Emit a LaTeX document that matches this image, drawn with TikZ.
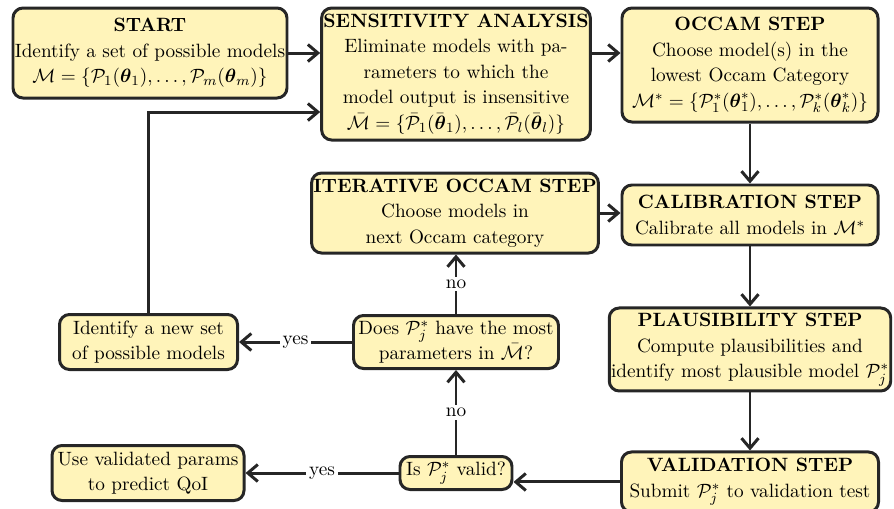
\documentclass[tikz,border=0pt]{standalone}
\usepackage{amsmath}
\usepackage{amssymb}
\usepackage{xcolor}
\usepackage{tikz}
\usetikzlibrary{arrows.meta,positioning}

\begin{document}
\begin{tikzpicture}[
  x=0.2mm, y=-0.2mm,
  font=\fontsize{10.95}{14.5}\selectfont,
  >={Straight Barb[length=2mm,width=3.4mm]},
  box/.style={draw=black!85, fill=stepyellow, rounded corners=2mm,
    line width=1.7pt, align=center, inner sep=1pt},
  flow/.style={->, line width=1.7pt, draw=black!85},
  answer/.style={midway, fill=white, inner sep=1.5pt}
]
\definecolor{stepyellow}{HTML}{FFF4BA}
\useasboundingbox (0,0) rectangle (894,508);

% Start
\node[box, minimum width=54.8mm, minimum height=18mm] (start) at (150,53)
  {\textbf{START}\\Identify a set of possible models\\
   $\mathcal{M}=\{\mathcal{P}_1(\boldsymbol{\theta}_1),\ldots,\mathcal{P}_m(\boldsymbol{\theta}_m)\}$};

% Sensitivity analysis
\node[box, minimum width=53.6mm, minimum height=26.4mm] (sens) at (456,74)
  {\textbf{SENSITIVITY ANALYSIS}\\Eliminate models with pa-\\rameters to which the\\
   model output is insensitive\\
   $\bar{\mathcal{M}}=\{\bar{\mathcal{P}}_1(\bar{\boldsymbol{\theta}}_1),\ldots,\bar{\mathcal{P}}_l(\bar{\boldsymbol{\theta}}_l)\}$};

% Occam step
\node[box, minimum width=51.2mm, minimum height=22.8mm] (occam) at (750,65)
  {\textbf{OCCAM STEP}\\Choose model(s) in the\\lowest Occam Category\\
   $\mathcal{M}^*=\{\mathcal{P}^*_1(\boldsymbol{\theta}^*_1),\ldots,\mathcal{P}^*_k(\boldsymbol{\theta}^*_k)\}$};

% Calibration, plausibility, validation
\node[box, minimum width=51.2mm, minimum height=12mm, below=12mm of occam] (calib)
  {\textbf{CALIBRATION STEP}\\Calibrate all models in $\mathcal{M}^*$};
\node[box, minimum width=56mm, minimum height=16.6mm, below=12mm of calib] (plaus)
  {\textbf{PLAUSIBILITY STEP}\\Compute plausibilities and\\
   identify most plausible model $\mathcal{P}^*_j$};
\node[box, minimum width=51.4mm, minimum height=12mm, below=11.6mm of plaus] (valid)
  {\textbf{VALIDATION STEP}\\Submit $\mathcal{P}^*_j$ to validation test};

% Iterative Occam step
\node[box, minimum width=57.2mm, minimum height=16mm] (iter) at (455,213)
  {\textbf{ITERATIVE OCCAM STEP}\\Choose models in\\next Occam category};

% Decisions
\node[box, minimum width=41mm, minimum height=10.6mm] (most) at (456,342)
  {Does $\mathcal{P}^*_j$ have the most\\parameters in $\bar{\mathcal{M}}$?};
\node[box, minimum width=22.4mm, minimum height=6.6mm] (isvalid) at (456,473)
  {Is $\mathcal{P}^*_j$ valid?};

% Outcomes
\node[box, minimum width=35.6mm, minimum height=11mm, left=22.6mm of most] (newset)
  {Identify a new set\\of possible models};
\node[box, minimum width=38.4mm, minimum height=11mm, left=30.6mm of isvalid] (predict)
  {Use validated params\\to predict QoI};

% Connectors
\draw[flow] (start.east) -- (start.east -| sens.west);
\draw[flow] (start.east -| sens.east) -- (start.east -| occam.west);
\draw[flow] (occam) -- (calib);
\draw[flow] (iter.east) -- (iter.east -| calib.west);
\draw[flow] (calib) -- (plaus);
\draw[flow] (plaus) -- (valid);
\draw[flow] (valid.west) -- (valid.west -| isvalid.east);
\draw[flow] (isvalid) -- node[answer] {yes} (isvalid -| predict.east);
\draw[flow] (isvalid) -- node[answer] {no} (most);
\draw[flow] (most) -- node[answer] {yes} (newset);
\draw[flow] (most.north) -- node[answer] {no} (most.north |- iter.south);
\draw[flow] (newset.north) |- ([yshift=-7.6mm]sens.west);
\end{tikzpicture}
\end{document}
